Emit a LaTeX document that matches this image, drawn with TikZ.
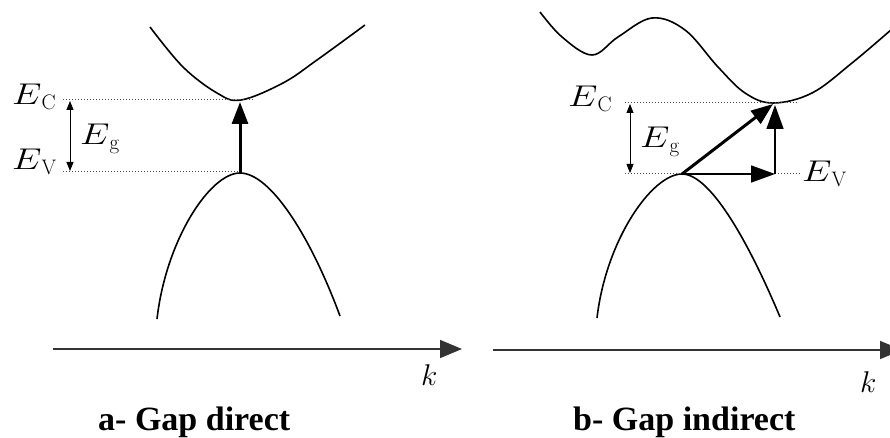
\RequirePackage{fix-cm}
\documentclass[tikz,border=0pt]{standalone}
\usepackage{fontspec}
\newfontfamily\capfont{Liberation Serif}[BoldFont={Liberation Serif Bold}]
\usetikzlibrary{arrows.meta}
\newcommand{\wideE}{\scalebox{1.25}[1]{$E$}}
\begin{document}
\begin{tikzpicture}[x=1pt,y=-1pt,
  band/.style={line width=1.6pt, black},
  level/.style={line width=1pt, dotted, black!70},
  axisline/.style={line width=1.6pt, black!80, -{Triangle[length=22pt,width=18pt]}},
  gaparrow/.style={line width=0.8pt, {Triangle[length=9pt,width=7pt]}-{Triangle[length=9pt,width=7pt]}},
  bigarrow/.style={line width=3pt, -{Triangle[length=22pt,width=16pt]}},
  thinarrow/.style={line width=1.6pt, -{Triangle[length=24pt,width=17pt]}},
  lbl/.style={anchor=base west, inner sep=0pt, font=\fontsize{30}{35}\selectfont},
  captext/.style={anchor=base west, inner sep=0pt, font=\capfont\bfseries\fontsize{34}{40}\selectfont}]
\useasboundingbox (0,0) rectangle (890,438);
\clip (0,0) rectangle (890,438);

% ---------- panel a ----------
\draw[band] plot[smooth, tension=0.6] coordinates {(150,27) (183,67) (217,93) (241,100) (283,83) (317,60) (365,25)};
\coordinate (aPeak) at (240,173);
\draw[band] (157,319) .. controls (166,240) and (210,173) .. (aPeak)
                      .. controls (270,173) and (310,235) .. (340,316);
\coordinate (aEcL) at (63,100);  \coordinate (aEcR) at (253,100);
\coordinate (aEvL) at (63,172);  \coordinate (aEvR) at (240,172);
\draw[level] (aEcL) -- (aEcR);
\draw[level] (aEvL) -- (aEvR);
\coordinate (aGt) at (70,101); \coordinate (aGb) at (70,171);
\draw[gaparrow] (aGt) -- (aGb);
\coordinate (aTop) at (240,102);
\draw[bigarrow] (aPeak) -- (aTop);
\node[lbl] (aEc) at (12,105) {\wideE$_{\mathrm{C}}$};
\node[lbl] (aEv) at (12,170) {\wideE$_{\mathrm{V}}$};
\node[lbl] (aEg) at (80,145) {\wideE$_{\mathrm{g}}$};
\coordinate (aAx0) at (53,349); \coordinate (aAx1) at (462,349);
\draw[axisline] (aAx0) -- (aAx1);
\node[lbl] (ak) at (421,385) {$k$};
\node[captext] (acap) at (98,430) {a- Gap direct};

% ---------- panel b ----------
\draw[band] plot[smooth, tension=0.6] coordinates {(540,12) (562,37) (592,55) (618,37) (652,18) (685,30) (718,67) (745,93) (773,103) (812,93) (852,63) (892,29)};
\coordinate (bPeak) at (682,174);
\draw[band] (597,318) .. controls (606,240) and (652,174) .. (bPeak)
                      .. controls (712,174) and (752,250) .. (780,317);
\coordinate (bEcL) at (625,103); \coordinate (bEcR) at (798,103);
\coordinate (bEvL) at (625,174); \coordinate (bEvR) at (800,174);
\draw[level] (bEcL) -- (bEcR);
\draw[level] (bEvL) -- (bEvR);
\coordinate (bGt) at (630,104); \coordinate (bGb) at (630,173);
\draw[gaparrow] (bGt) -- (bGb);
\coordinate (bMin) at (773,104);
\coordinate (bCorner) at (775,174); \coordinate (bUp) at (775,105);
\draw[bigarrow] (bPeak) -- (bMin);
\draw[thinarrow] (bPeak) -- (bCorner);
\draw[thinarrow] (bCorner) -- (bUp);
\node[lbl] (bEc) at (568,107) {\wideE$_{\mathrm{C}}$};
\node[lbl] (bEv) at (802,182) {\wideE$_{\mathrm{V}}$};
\node[lbl] (bEg) at (640,148) {\wideE$_{\mathrm{g}}$};
\coordinate (bAx0) at (493,350); \coordinate (bAx1) at (902,350);
\draw[axisline] (bAx0) -- (bAx1);
\node[lbl] (bk) at (860,392) {$k$};
\node[captext] (bcap) at (573,430) {b- Gap indirect};
\end{tikzpicture}
\end{document}
